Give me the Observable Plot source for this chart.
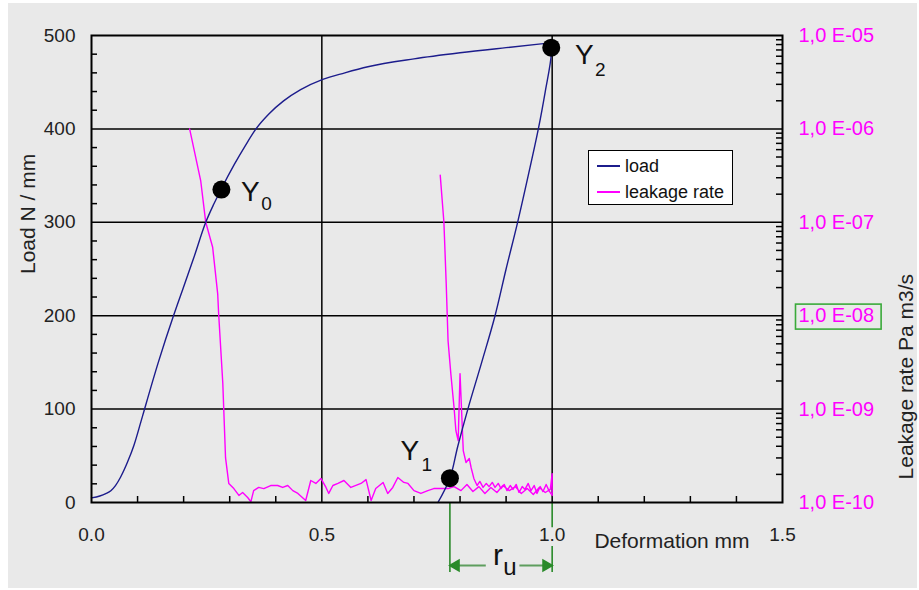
<!DOCTYPE html>
<html>
<head>
<meta charset="utf-8">
<script src="https://cdn.jsdelivr.net/npm/d3@7"></script>
<script src="https://cdn.jsdelivr.net/npm/@observablehq/plot@0.6"></script>
<style>
  body { margin: 0; background: #fff; font-family: "Liberation Sans", Arial, sans-serif; }
  #wrap { position: relative; width: 919px; height: 590px; overflow: hidden; }
  #panel { position: absolute; left: 8px; top: 3px; width: 909px; height: 585px; background: #e9e9e9; }
  #wrap svg { position: absolute; left: 0; top: 0; }
  #legend { position: absolute; left: 588px; top: 150px; width: 143px; height: 53px; background: #fff; border: 1.5px solid #000; }
  #legend .row { position: absolute; left: 0; height: 20px; display: flex; align-items: center; font-size: 18px; color: #111; }
  #legend .sw { width: 23px; height: 1.5px; margin-left: 8px; margin-right: 5px; }
</style>
</head>
<body>
<div id="wrap"><div id="panel"></div></div>
<script>
// ---------------- data ----------------
const xTicks = [0, 0.5, 1.0, 1.5];
const loadTicks = [0, 100, 200, 300, 400, 500];
const leakTicks = [1e-10, 1e-9, 1e-8, 1e-7, 1e-6, 1e-5];
const leakTickLabels = ["1,0 E-10", "1,0 E-09", "1,0 E-08", "1,0 E-07", "1,0 E-06", "1,0 E-05"];

const seriesNames = ["load", "leakage rate"];
const seriesColors = ["#1c1c8c", "#ff00ff"];

// load curve: loading branch (deformation mm, load N/mm)
const loadingDeformation = [0, 0.018, 0.031, 0.042, 0.052, 0.063, 0.078, 0.092, 0.107, 0.114, 0.145, 0.178, 0.193, 0.222, 0.248, 0.265, 0.28, 0.31, 0.335, 0.357, 0.385, 0.417, 0.454, 0.502, 0.55, 0.6, 0.7, 0.8, 0.9, 0.976, 0.996];
const loadingLoad = [5, 7, 9.5, 12.5, 18, 27, 43, 61, 86, 98, 150, 200, 221, 262, 300, 319, 334, 362, 383, 400, 416, 430, 442, 453, 460, 466.5, 475, 481.5, 487, 491, 492];
// unloading branch
const unloadingDeformation = [0.996, 0.998, 0.985, 0.97, 0.948, 0.925, 0.9, 0.876, 0.847, 0.817, 0.795, 0.778, 0.752];
const unloadingLoad = [492, 480, 440, 400, 350, 300, 250, 200, 150, 100, 60, 26, 0];

// leakage rate curve, Pa m3/s (in time order)
const leakDeformation = [
  0.213, 0.237, 0.248, 0.263, 0.274, 0.276, 0.285, 0.291, 0.298,
  0.309, 0.320, 0.328, 0.339, 0.346, 0.352, 0.363, 0.374, 0.389, 0.404, 0.415, 0.426, 0.437, 0.448, 0.465, 0.476, 0.487, 0.498, 0.509, 0.515,
  0.524, 0.535, 0.548, 0.563, 0.585, 0.596, 0.607, 0.617, 0.633, 0.643, 0.654, 0.665, 0.678, 0.687, 0.700, 0.715, 0.730, 0.743, 0.759,
  0.774, 0.787, 0.802, 0.815, 0.828, 0.841, 0.854, 0.867, 0.880, 0.893, 0.907, 0.920, 0.933, 0.946, 0.959, 0.972, 0.985, 0.996, 1.000,
  1.000, 0.993, 0.987, 0.980, 0.974, 0.967, 0.961, 0.954, 0.948, 0.941, 0.935, 0.928, 0.922, 0.915, 0.909, 0.902, 0.896, 0.889, 0.883, 0.876,
  0.870, 0.863, 0.857, 0.850, 0.843, 0.837, 0.830, 0.824, 0.820, 0.813, 0.807, 0.800, 0.796, 0.791, 0.787, 0.780, 0.774, 0.770, 0.765, 0.757];
const leakValues = [
  1.0e-6, 2.8e-7, 1.0e-7, 5.4e-8, 1.7e-8, 1.05e-8, 1.9e-9, 3.0e-10, 1.6e-10,
  1.41e-10, 1.19e-10, 1.28e-10, 1.13e-10, 1.02e-10, 1.34e-10, 1.45e-10, 1.41e-10, 1.52e-10, 1.52e-10, 1.45e-10, 1.52e-10, 1.34e-10, 1.25e-10, 1.05e-10, 1.72e-10, 1.60e-10, 1.81e-10, 1.45e-10, 1.25e-10,
  1.52e-10, 1.60e-10, 1.72e-10, 1.45e-10, 1.60e-10, 1.76e-10, 1.05e-10, 1.41e-10, 1.64e-10, 1.25e-10, 1.45e-10, 1.85e-10, 1.64e-10, 1.60e-10, 1.34e-10, 1.25e-10, 1.34e-10, 1.41e-10, 1.41e-10,
  1.41e-10, 1.48e-10, 1.34e-10, 1.56e-10, 1.31e-10, 1.48e-10, 1.25e-10, 1.45e-10, 1.28e-10, 1.52e-10, 1.34e-10, 1.48e-10, 1.25e-10, 1.41e-10, 1.22e-10, 1.45e-10, 1.28e-10, 1.38e-10, 2.04e-10,
  1.19e-10, 1.34e-10, 1.56e-10, 1.31e-10, 1.48e-10, 1.25e-10, 1.52e-10, 1.34e-10, 1.60e-10, 1.38e-10, 1.48e-10, 1.28e-10, 1.56e-10, 1.38e-10, 1.52e-10, 1.34e-10, 1.56e-10, 1.41e-10, 1.60e-10, 1.45e-10,
  1.64e-10, 1.48e-10, 1.60e-10, 1.45e-10, 1.68e-10, 1.52e-10, 1.81e-10, 2.37e-10, 2.96e-10, 2.68e-10, 3.6e-10, 2.4e-9, 4.6e-10, 5.9e-10, 1.04e-9, 2.4e-9, 5.4e-9, 2.2e-8, 1.0e-7, 3.2e-7];

// characteristic points
const pointSubscripts = ["0", "1", "2"];
const pointDeformation = [0.282, 0.778, 0.998];
const pointLoad = [335, 26, 487];

// ---------------- layout / style ----------------
const W = 919, H = 590;
const M = {marginLeft: 91, marginRight: 137, marginTop: 35, marginBottom: 88};
const FONT = "'Liberation Sans', Arial, sans-serif";
const GREEN = "#2a8a2a";
const TICK = 6;
const PLOT_W = W - M.marginLeft - M.marginRight;
const PLOT_H = H - M.marginTop - M.marginBottom;
const labelOffsets = [ // [Y dx, Y dy, sub dx, sub dy]
  [29, 2, 45, 14],
  [-40, -27, -23, -13],
  [33, 7, 49, 22]
];

const leakData = leakDeformation.map((x, i) => ({x, v: leakValues[i]}));
const loadingData = loadingDeformation.map((x, i) => ({x, y: loadingLoad[i]}));
const unloadingData = unloadingDeformation.map((x, i) => ({x, y: unloadingLoad[i]}));
const points = pointDeformation.map((x, i) => ({x, y: pointLoad[i], sub: pointSubscripts[i]}));
const labelMap = new Map(leakTicks.map((t, i) => [t, leakTickLabels[i]]));
const minorLeak = leakTicks.slice(0, -1).flatMap(t => d3.range(2, 10).map(m => m * t));
const minorLoad = d3.range(20, 500, 20).filter(v => v % 100 !== 0);
const minorX = d3.range(1, 15).filter(k => k % 5 !== 0).map(k => k / 10);

// chart A: leakage (log, right axis) + grid
const chartA = Plot.plot({
  width: W, height: H, ...M,
  style: {background: "transparent", overflow: "visible", fontFamily: FONT},
  x: {domain: [0, 1.5], axis: null},
  y: {type: "log", domain: [1e-10, 1e-5], axis: null},
  marks: [
    Plot.gridY(leakTicks.slice(1, -1), {stroke: "#000", strokeOpacity: 1, strokeWidth: 1.5}),
    Plot.gridX(xTicks.slice(1, -1), {stroke: "#000", strokeOpacity: 1, strokeWidth: 1.5}),
    Plot.axisY(leakTicks, {anchor: "right", tickSize: 0, tickPadding: 16, tickFormat: d => labelMap.get(d), fill: "#ff00ff", fontSize: 20, label: null}),
    Plot.tickY(minorLeak, {y: d => d, insetLeft: PLOT_W - TICK, stroke: "#000", strokeWidth: 1.5}),
    Plot.line(leakData, {x: "x", y: "v", stroke: seriesColors[1], strokeWidth: 1.4}),
    Plot.text(["Leakage rate Pa m3/s"], {text: d => d, frameAnchor: "right", dx: 124, dy: 5, rotate: -90, fontSize: 21, fill: "#222"})
  ]
});

// chart B: load (linear, left axis) + annotations
const labelMarks = points.flatMap((p, i) => [
  Plot.text([p], {x: "x", y: "y", text: () => "Y", dx: labelOffsets[i][0], dy: labelOffsets[i][1], fontSize: 28, fill: "#111"}),
  Plot.text([p], {x: "x", y: "y", text: "sub", dx: labelOffsets[i][2], dy: labelOffsets[i][3], fontSize: 19, fill: "#111"})
]);
const ruStart = pointDeformation[1], ruEnd = 1.0;
const ruMid = (ruStart + ruEnd) / 2;

const chartB = Plot.plot({
  width: W, height: H, ...M,
  style: {background: "transparent", overflow: "visible", fontFamily: FONT},
  x: {domain: [0, 1.5]},
  y: {domain: [0, 500]},
  marks: [
    Plot.axisY(loadTicks, {tickSize: 0, tickPadding: 16, fontSize: 19, fill: "#222", label: null}),
    Plot.tickY(minorLoad, {y: d => d, insetRight: PLOT_W - TICK, stroke: "#000", strokeWidth: 1.5}),
    Plot.axisX(xTicks, {tickSize: 0, tickPadding: 25, tickFormat: d3.format(".1f"), fontSize: 19, fill: "#222", label: null}),
    Plot.tickX(minorX, {x: d => d, insetTop: PLOT_H - TICK, stroke: "#000", strokeWidth: 1.5}),
    Plot.line(loadingData, {x: "x", y: "y", stroke: seriesColors[0], strokeWidth: 1.4, curve: "monotone-x"}),
    Plot.line(unloadingData, {x: "x", y: "y", stroke: seriesColors[0], strokeWidth: 1.4, curve: "catmull-rom"}),
    // r_u annotation
    Plot.ruleX([ruStart], {y1: 0, y2: -75, stroke: GREEN, strokeWidth: 1.6}),
    Plot.ruleX([ruEnd], {y1: 0, y2: -27, stroke: GREEN, strokeWidth: 1.6}),
    Plot.ruleX([ruEnd], {y1: -47, y2: -75, stroke: GREEN, strokeWidth: 1.6}),
    Plot.ruleY([-67.5], {x1: ruStart, x2: ruMid - 0.032, stroke: "#5e9e5e", strokeWidth: 2}),
    Plot.ruleY([-67.5], {x1: ruMid + 0.041, x2: ruEnd, stroke: "#5e9e5e", strokeWidth: 2}),
    Plot.dot([ruStart], {x: d => d, y: () => -67.5, dx: 6, symbol: "triangle", rotate: -90, r: 5, fill: GREEN, stroke: "none"}),
    Plot.dot([ruEnd], {x: d => d, y: () => -67.5, dx: -6, symbol: "triangle", rotate: 90, r: 5, fill: GREEN, stroke: "none"}),
    Plot.text(["r"], {text: d => d, x: () => ruMid, y: () => -67.5, dx: -3, dy: -10, fontSize: 30, fill: "#111"}),
    Plot.text(["u"], {text: d => d, x: () => ruMid, y: () => -67.5, dx: 9, dy: 2, fontSize: 24, fill: "#111"}),
    // points
    Plot.dot(points, {x: "x", y: "y", r: 9, fill: "#000", stroke: "none"}),
    ...labelMarks,
    Plot.frame({stroke: "#000", strokeWidth: 2}),
    Plot.text(["Deformation mm"], {text: d => d, frameAnchor: "bottom", dx: 235, dy: 45, fontSize: 21, fill: "#222"}),
    Plot.text(["Load N / mm"], {text: d => d, frameAnchor: "left", dx: -63, dy: 5, rotate: -90, fontSize: 21, fill: "#222"})
  ]
});

const wrap = document.getElementById("wrap");
wrap.appendChild(chartA);
wrap.appendChild(chartB);

// green box around 1,0 E-08 label
d3.select(chartA).selectAll("text").each(function () {
  if (this.textContent === leakTickLabels[2]) {
    const b = this.getBBox();
    const ctm = this.getCTM();
    const x0 = ctm.e + b.x, y0 = ctm.f + b.y;
    d3.select(chartA).append("rect")
      .attr("x", x0 - 3).attr("y", y0 + b.height / 2 - 11)
      .attr("width", b.width + 10).attr("height", 25)
      .attr("fill", "none").attr("stroke", "#3aaa3a").attr("stroke-width", 1.6);
  }
});

// legend
const legend = document.createElement("div");
legend.id = "legend";
seriesNames.forEach((name, i) => {
  const row = document.createElement("div");
  row.className = "row";
  row.style.top = (5 + i * 26) + "px";
  const sw = document.createElement("div");
  sw.className = "sw";
  sw.style.background = seriesColors[i];
  const t = document.createElement("span");
  t.textContent = name;
  row.appendChild(sw); row.appendChild(t);
  legend.appendChild(row);
});
wrap.appendChild(legend);
</script>
</body>
</html>
